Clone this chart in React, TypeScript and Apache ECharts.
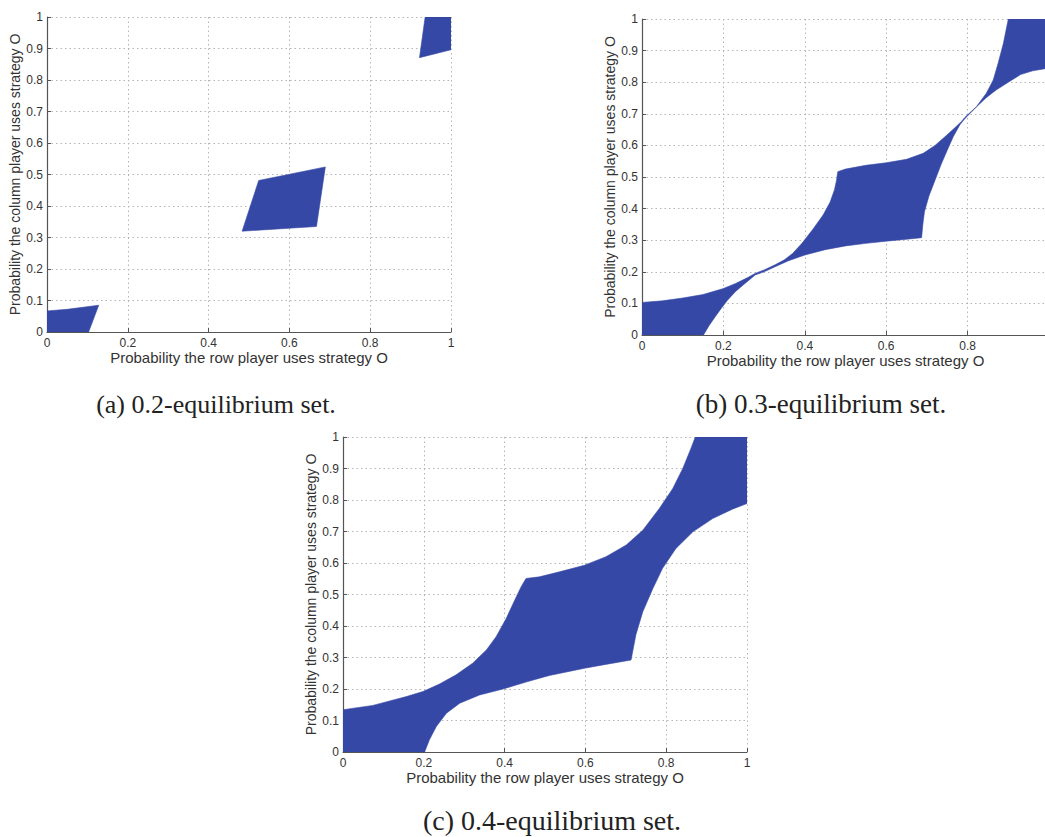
import React, { useEffect, useRef } from "react";
import * as echarts from "echarts";

// ---- data ----
const xTicks = [0, 0.2, 0.4, 0.6, 0.8, 1];
const yTicks = [0, 0.1, 0.2, 0.3, 0.4, 0.5, 0.6, 0.7, 0.8, 0.9, 1];

// (a) 0.2-equilibrium set: three separate regions
const regionA1 = [[0, 0], [0, 0.067], [0.05, 0.072], [0.128, 0.085], [0.103, 0]];
const regionA2 = [[0.483, 0.32], [0.524, 0.481], [0.689, 0.524], [0.667, 0.335]];
const regionA3 = [[0.922, 0.871], [0.936, 1], [1, 1], [1, 0.896]];

// (b) 0.3-equilibrium set: upper boundary (ascending x) then lower boundary (descending x)
const upperB = [
  [0, 0.103], [0.05, 0.108], [0.1, 0.117], [0.15, 0.128], [0.2, 0.147], [0.23, 0.163],
  [0.26, 0.182], [0.278, 0.195], [0.3, 0.206], [0.327, 0.222], [0.35, 0.238], [0.37, 0.258],
  [0.393, 0.29], [0.42, 0.335], [0.445, 0.38], [0.462, 0.42], [0.473, 0.46], [0.478, 0.49], [0.481, 0.517],
  [0.5, 0.525], [0.55, 0.537], [0.6, 0.545], [0.65, 0.556], [0.691, 0.575], [0.72, 0.6],
  [0.745, 0.628], [0.768, 0.655], [0.785, 0.676], [0.793, 0.688], [0.822, 0.723], [0.846, 0.765],
  [0.863, 0.807], [0.875, 0.86], [0.888, 0.923], [0.9, 1], [1, 1],
];
const lowerB = [
  [1, 0.845], [0.96, 0.836], [0.93, 0.824], [0.9, 0.8], [0.87, 0.775], [0.845, 0.75],
  [0.822, 0.722], [0.805, 0.7], [0.793, 0.684], [0.781, 0.665], [0.765, 0.628], [0.75, 0.585],
  [0.735, 0.54], [0.72, 0.49], [0.705, 0.44], [0.694, 0.39], [0.69, 0.35], [0.687, 0.308],
  [0.65, 0.303], [0.6, 0.297], [0.55, 0.29], [0.5, 0.282], [0.45, 0.27], [0.4, 0.253],
  [0.36, 0.235], [0.327, 0.216], [0.3, 0.2], [0.278, 0.19], [0.265, 0.176], [0.25, 0.16],
  [0.23, 0.138], [0.21, 0.11], [0.195, 0.085], [0.18, 0.058], [0.165, 0.03], [0.151, 0], [0, 0],
];

// (c) 0.4-equilibrium set
const upperC = [
  [0, 0.134], [0.074, 0.148], [0.157, 0.176], [0.198, 0.192], [0.239, 0.216], [0.28, 0.245],
  [0.321, 0.282], [0.355, 0.324], [0.379, 0.366], [0.404, 0.424], [0.425, 0.482], [0.441, 0.525],
  [0.453, 0.551], [0.486, 0.556], [0.536, 0.572], [0.598, 0.593], [0.651, 0.62], [0.701, 0.657],
  [0.742, 0.704], [0.783, 0.773], [0.816, 0.836], [0.841, 0.9], [0.861, 0.963], [0.872, 1], [1, 1],
];
const lowerC = [
  [1, 0.789], [0.964, 0.771], [0.915, 0.741], [0.866, 0.699], [0.824, 0.646], [0.791, 0.583],
  [0.767, 0.519], [0.742, 0.445], [0.725, 0.372], [0.713, 0.292], [0.65, 0.278], [0.598, 0.266],
  [0.511, 0.243], [0.453, 0.222], [0.396, 0.2], [0.338, 0.181], [0.289, 0.155], [0.256, 0.123],
  [0.231, 0.081], [0.214, 0.039], [0.202, 0], [0, 0],
];

const xName = "Probability the row player uses strategy O";
const yName = "Probability the column player uses strategy O";
const captions = ["(a) 0.2-equilibrium set.", "(b) 0.3-equilibrium set.", "(c) 0.4-equilibrium set."];

const FILL = "#3548a6";

export default function App() {
  const ref = useRef<HTMLDivElement>(null);
  useEffect(() => {
    if (!ref.current) return;
    const chart = echarts.init(ref.current, null, { renderer: "svg" });

    const grids = [
      { left: 47, top: 17, width: 404, height: 315, outerBoundsMode: "none" },
      { left: 642, top: 19, width: 407, height: 316, outerBoundsMode: "none" },
      { left: 343, top: 437, width: 404, height: 315, outerBoundsMode: "none" },
    ];

    const axisCommon = {
      type: "value" as const,
      min: 0,
      max: 1,
      axisLine: { show: true, lineStyle: { color: "#555", width: 1.2 } },
      axisTick: { show: true, inside: true, length: 4, lineStyle: { color: "#555" } },
      splitLine: { show: true, lineStyle: { color: "#b5b5b5", type: [1.5, 3] as any, width: 1 } },
      axisLabel: {
        fontFamily: "Liberation Sans",
        fontSize: 12,
        color: "#333",
        formatter: (v: number) => String(+v.toFixed(1)),
      },
      nameLocation: "middle" as const,
    };

    const xAxes = grids.map((_, i) => ({
      ...axisCommon,
      gridIndex: i,
      interval: xTicks[1] - xTicks[0],
      name: xName,
      nameGap: 16,
      nameTextStyle: { fontFamily: "Liberation Sans", fontSize: 15, color: "#333" },
      // panel (b) is cropped at the page's right edge, so its last label is not visible
      axisLabel: { ...axisCommon.axisLabel, margin: 5, showMaxLabel: i !== 1 },
    }));
    const yAxes = grids.map((_, i) => ({
      ...axisCommon,
      gridIndex: i,
      interval: yTicks[1] - yTicks[0],
      name: yName,
      nameGap: 25,
      nameTextStyle: { fontFamily: "Liberation Sans", fontSize: 14, color: "#333" },
      axisLabel: { ...axisCommon.axisLabel, margin: 4 },
    }));

    const polygons: { grid: number; pts: number[][] }[] = [
      { grid: 0, pts: regionA1 },
      { grid: 0, pts: regionA2 },
      { grid: 0, pts: regionA3 },
      { grid: 1, pts: [...upperB, ...lowerB] },
      { grid: 2, pts: [...upperC, ...lowerC] },
    ];

    const series = polygons.map((p) => ({
      type: "custom" as const,
      xAxisIndex: p.grid,
      yAxisIndex: p.grid,
      clip: true,
      silent: true,
      encode: { x: 0, y: 1 },
      data: p.pts,
      renderItem: (params: any, api: any) => {
        if (params.dataIndex !== 0) return null;
        const points = p.pts.map((pt) => api.coord(pt));
        return {
          type: "polygon",
          shape: { points },
          style: { fill: FILL, stroke: FILL, lineWidth: 0.6 },
        };
      },
    }));

    const capStyle = { fontFamily: "Liberation Serif", fill: "#222" };
    chart.setOption({
      animation: false,
      backgroundColor: "#fff",
      grid: grids,
      xAxis: xAxes,
      yAxis: yAxes,
      series,
      graphic: [
        { type: "text", x: 216, y: 404, style: { ...capStyle, fontSize: 26, text: captions[0], align: "center", verticalAlign: "middle" } },
        { type: "text", x: 821, y: 404, style: { ...capStyle, fontSize: 27, text: captions[1], align: "center", verticalAlign: "middle" } },
        { type: "text", x: 552, y: 820, style: { ...capStyle, fontSize: 28, text: captions[2], align: "center", verticalAlign: "middle" } },
      ],
    });
    return () => chart.dispose();
  }, []);
  return (
    <div
      ref={ref}
      style={{ position: "fixed", left: 0, top: 0, width: 1045, height: 837, overflow: "hidden" }}
    />
  );
}
